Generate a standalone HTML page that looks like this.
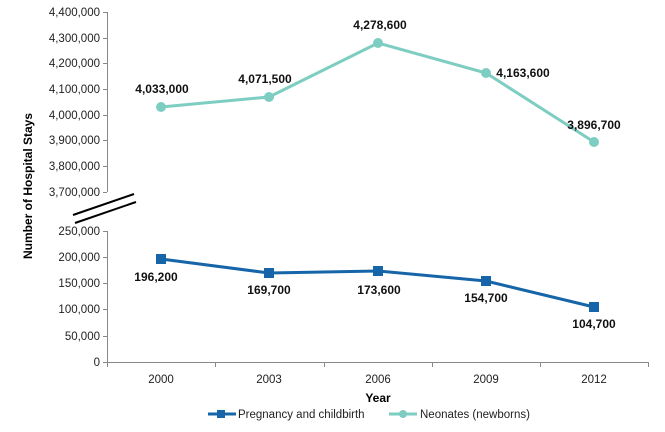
<!DOCTYPE html>
<html><head><style>body{margin:0;background:#fff}svg{display:block}text{font-family:"Liberation Sans",sans-serif}</style></head><body>
<svg width="665" height="432" viewBox="0 0 665 432" xmlns="http://www.w3.org/2000/svg">
<g stroke="#888" stroke-width="1" fill="none">
<line x1="107.5" y1="12" x2="107.5" y2="192"/>
<line x1="107.5" y1="231" x2="107.5" y2="362"/>
<line x1="107" y1="362.5" x2="648" y2="362.5"/>
</g>
<g stroke="#888">
<line x1="103" y1="12.5" x2="107" y2="12.5"/><line x1="103" y1="38.5" x2="107" y2="38.5"/><line x1="103" y1="63.5" x2="107" y2="63.5"/><line x1="103" y1="89.5" x2="107" y2="89.5"/><line x1="103" y1="115.5" x2="107" y2="115.5"/><line x1="103" y1="140.5" x2="107" y2="140.5"/><line x1="103" y1="166.5" x2="107" y2="166.5"/><line x1="103" y1="192.5" x2="107" y2="192.5"/>
<line x1="103" y1="231.5" x2="107" y2="231.5"/><line x1="103" y1="257.5" x2="107" y2="257.5"/><line x1="103" y1="283.5" x2="107" y2="283.5"/><line x1="103" y1="309.5" x2="107" y2="309.5"/><line x1="103" y1="336.5" x2="107" y2="336.5"/><line x1="103" y1="362.5" x2="107" y2="362.5"/>
<line x1="107.5" y1="362" x2="107.5" y2="367"/><line x1="215.5" y1="362" x2="215.5" y2="367"/><line x1="324.5" y1="362" x2="324.5" y2="367"/><line x1="432.5" y1="362" x2="432.5" y2="367"/><line x1="540.5" y1="362" x2="540.5" y2="367"/><line x1="648.5" y1="362" x2="648.5" y2="367"/>
</g>
<g stroke="#000" stroke-width="2"><line x1="73" y1="215" x2="134" y2="194"/><line x1="75" y1="223" x2="136" y2="202"/></g>
<g font-size="11.5" fill="#222" text-anchor="end">
<text x="100" y="16">4,400,000</text><text x="100" y="42">4,300,000</text><text x="100" y="67">4,200,000</text><text x="100" y="93">4,100,000</text><text x="100" y="119">4,000,000</text><text x="100" y="144">3,900,000</text><text x="100" y="170">3,800,000</text><text x="100" y="196">3,700,000</text>
<text x="100" y="235">250,000</text><text x="100" y="261">200,000</text><text x="100" y="287">150,000</text><text x="100" y="313">100,000</text><text x="100" y="340">50,000</text><text x="100" y="366">0</text>
</g>
<g font-size="11.5" fill="#222" text-anchor="middle">
<text x="161" y="383">2000</text><text x="269" y="383">2003</text><text x="378" y="383">2006</text><text x="486" y="383">2009</text><text x="594" y="383">2012</text>
</g>
<text x="378" y="402" font-size="12" font-weight="bold" text-anchor="middle">Year</text>
<text transform="translate(32,186) rotate(-90)" font-size="12" font-weight="bold" text-anchor="middle">Number of Hospital  Stays</text>
<polyline points="161,107 269,97 378,43 486,73 594,142" fill="none" stroke="#7ecdc2" stroke-width="3"/>
<g fill="#7ecdc2"><circle cx="161" cy="107" r="5"/><circle cx="269" cy="97" r="5"/><circle cx="378" cy="43" r="5"/><circle cx="486" cy="73" r="5"/><circle cx="594" cy="142" r="5"/></g>
<polyline points="161,259 269,273 378,271 486,281 594,307" fill="none" stroke="#1565a8" stroke-width="3"/>
<g fill="#1565a8"><rect x="156" y="254" width="10" height="10"/><rect x="264" y="268" width="10" height="10"/><rect x="373" y="266" width="10" height="10"/><rect x="481" y="276" width="10" height="10"/><rect x="589" y="302" width="10" height="10"/></g>
<g font-size="12" font-weight="bold" fill="#111" text-anchor="middle">
<text x="162" y="93">4,033,000</text><text x="265" y="83">4,071,500</text><text x="380" y="29">4,278,600</text><text x="523" y="77">4,163,600</text><text x="594" y="129">3,896,700</text>
<text x="156" y="281">196,200</text><text x="269" y="294">169,700</text><text x="379" y="294">173,600</text><text x="486" y="302">154,700</text><text x="594" y="328">104,700</text>
</g>
<line x1="208" y1="414" x2="236" y2="414" stroke="#1565a8" stroke-width="3"/><rect x="217" y="410" width="8" height="8" fill="#1565a8"/>
<text x="238" y="418" font-size="11.5" fill="#222">Pregnancy and  childbirth</text>
<line x1="389" y1="414" x2="417" y2="414" stroke="#7ecdc2" stroke-width="3"/><circle cx="403" cy="414" r="4" fill="#7ecdc2"/>
<text x="420" y="418" font-size="11.5" fill="#222">Neonates (newborns)</text>
</svg>
</body></html>
